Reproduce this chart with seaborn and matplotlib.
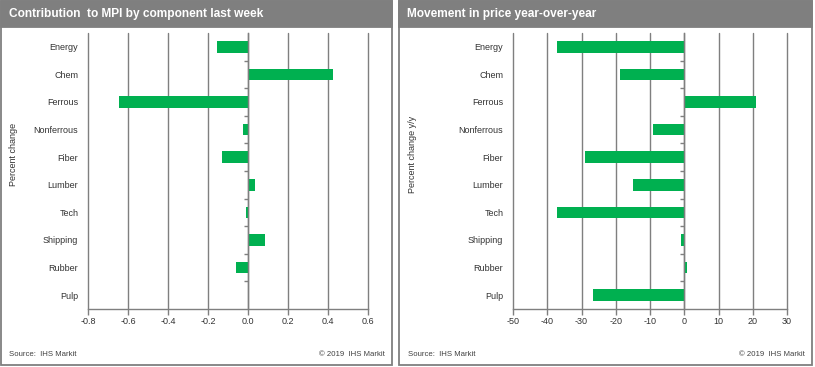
import numpy as np
import pandas as pd
import matplotlib
matplotlib.use("Agg")
import matplotlib.pyplot as plt
import seaborn as sns
from matplotlib.patches import Rectangle

components = ["Energy", "Chem", "Ferrous", "Nonferrous", "Fiber",
              "Lumber", "Tech", "Shipping", "Rubber", "Pulp"]
contribution_week = [-0.155, 0.425, -0.645, -0.025, -0.13,
                     0.035, -0.01, 0.085, -0.06, 0.0]
movement_yoy = [-37.2, -18.8, 21.0, -9.2, -29.0,
                -15.0, -37.2, -1.0, 0.8, -26.7]

left_ticks = [-0.8, -0.6, -0.4, -0.2, 0.0, 0.2, 0.4, 0.6]
right_ticks = [-50, -40, -30, -20, -10, 0, 10, 20, 30]

sns.set_style("white")
plt.rcParams["font.family"] = ["Liberation Sans", "DejaVu Sans"]

W, H = 815, 367
fig = plt.figure(figsize=(W / 100, H / 100), dpi=100)

GRAY = "#7f7f7f"
GREEN = "#00b050"


def px(x0, y0, x1, y1):
    # pixel box (top-left origin) -> figure fraction [left, bottom, w, h]
    return [x0 / W, 1 - y1 / H, (x1 - x0) / W, (y1 - y0) / H]


def panel(x0, x1, title, src_x, copy_x):
    # outer frame and grey header bar
    fig.patches.append(Rectangle((x0 / W, 1 - 365 / H), (x1 - x0) / W, 364 / H,
                                 transform=fig.transFigure, fill=False,
                                 edgecolor=GRAY, linewidth=1.3))
    fig.patches.append(Rectangle((x0 / W, 1 - 27 / H), (x1 - x0) / W, 26 / H,
                                 transform=fig.transFigure, facecolor=GRAY,
                                 edgecolor=GRAY, linewidth=1.3))
    fig.text((x0 + 8) / W, 1 - 14 / H, title, color="white", fontsize=8.6,
             fontweight="bold", va="center", ha="left")
    fig.text(src_x / W, 1 - 355 / H, "Source:  IHS Markit", fontsize=5.6,
             color="#404040", va="center", ha="left")
    fig.text(copy_x / W, 1 - 355 / H, "\u00a9 2019  IHS Markit", fontsize=5.6,
             color="#404040", va="center", ha="right")


def bar_chart(rect, values, ticks, ylabel, ylabel_x):
    ax = fig.add_axes(rect)
    df = pd.DataFrame({"component": components, "value": values})
    sns.barplot(data=df, x="value", y="component", orient="h", color=GREEN,
                width=0.42, saturation=1, ax=ax, edgecolor="none")
    ax.set_xlim(ticks[0], ticks[-1])
    ax.set_ylim(len(components) - 0.5, -0.5)
    ax.set_xticks(ticks)
    ax.set_xticklabels([f"{t:.1f}" if isinstance(t, float) else str(t) for t in ticks])
    ax.xaxis.grid(True, color=GRAY, linewidth=1)
    for gl in ax.get_xgridlines():
        gl.set_clip_on(False)
    ax.set_axisbelow(True)
    for s in ["top", "right", "left"]:
        ax.spines[s].set_visible(False)
    ax.spines["bottom"].set_color(GRAY)
    ax.spines["bottom"].set_linewidth(1)
    ax.tick_params(axis="x", length=4, color=GRAY, width=1, labelsize=6.5,
                   labelcolor="#333333", pad=2, bottom=True)
    ax.tick_params(axis="y", length=0, labelsize=6.5, labelcolor="#333333", pad=7)
    ax.set_xlabel("")
    ax.set_ylabel("")
    fig.text(ylabel_x / W, 1 - 154 / H, ylabel, rotation=90, fontsize=6.5,
             color="#333333", va="center", ha="center")

    # zero line with category-boundary tick marks
    ax2 = ax.twinx()
    ax2.set_ylim(ax.get_ylim())
    for s in ["top", "right", "bottom"]:
        ax2.spines[s].set_visible(False)
    ax2.spines["left"].set_position(("data", 0))
    ax2.spines["left"].set_color(GRAY)
    ax2.spines["left"].set_linewidth(1)
    ax2.yaxis.set_ticks_position("left")
    ax2.set_yticks(np.arange(0.5, len(components) - 0.5, 1.0))
    ax2.set_yticklabels([])
    ax2.tick_params(axis="y", length=3, color=GRAY, width=1, direction="out")
    ax2.grid(False)
    return ax


panel(1, 392, "Contribution  to MPI by component last week", 9, 385)
panel(399, 812, "Movement in price year-over-year", 408, 805)

bar_chart(px(88, 33, 368, 309), contribution_week, left_ticks, "Percent change", 14)
bar_chart(px(513, 33, 787, 309), movement_yoy, right_ticks, "Percent change y/y", 413)

fig.savefig("out.png", dpi=100)
